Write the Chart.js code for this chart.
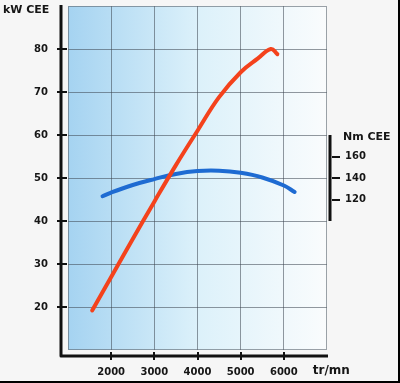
<!DOCTYPE html>
<html><head><meta charset="utf-8">
<script src="https://cdn.jsdelivr.net/npm/chart.js@4/dist/chart.umd.min.js"></script>
<style>html,body{margin:0;padding:0;background:#f6f6f6;overflow:hidden}canvas{display:block}</style>
</head><body>
<canvas id="c" width="400" height="383"></canvas>
<script>
// ---- data ----
const rpmPower = [1560, 2000, 2500, 3000, 3500, 4000, 4500, 5000, 5400, 5700, 5850];
const powerKW  = [19.2, 27,   35.8, 44.5, 53,   61,   68.8, 74.6, 77.8, 80,   78.8];
const rpmTorque = [1800, 2000, 2500, 3000, 3500, 4000, 4500, 5000, 5500, 6000, 6250];
const torqueNm  = [123,  126.5, 133.5, 139, 143.8, 146.5, 146.8, 144.8, 140.5, 133, 127];
const kwTicks  = [20, 30, 40, 50, 60, 70, 80];
const nmTicks  = [120, 140, 160];
const rpmTicks = [2000, 3000, 4000, 5000, 6000];
const kwTitle = 'kW CEE';
const nmTitle = 'Nm CEE';
const rpmTitle = 'tr/mn';

const FONT = 'DejaVu Sans';
const INK = '#161616';

const decor = {
  id: 'decor',
  beforeDraw(chart) {
    const {ctx, chartArea: a} = chart;
    ctx.save();
    ctx.fillStyle = '#f6f6f6';
    ctx.fillRect(0, 0, chart.width, chart.height);
    const g = ctx.createLinearGradient(a.left, 0, a.right, 0);
    g.addColorStop(0, '#a5d3f1');
    g.addColorStop(0.5, '#dcf1fa');
    g.addColorStop(1, '#fafcfd');
    ctx.fillStyle = g;
    ctx.fillRect(a.left, a.top, a.right - a.left, a.bottom - a.top);
    ctx.restore();
  },
  afterDraw(chart) {
    const {ctx, chartArea: a, scales} = chart;
    const x = scales.x, y = scales.y, y2 = scales.y2;
    ctx.save();
    // plot border
    ctx.strokeStyle = 'rgba(90,100,110,0.6)';
    ctx.lineWidth = 1;
    ctx.strokeRect(a.left + 0.5, a.top + 0.5, a.right - a.left - 1, a.bottom - a.top - 1);
    // left axis + bottom axis
    const ax = a.left - 7, by = a.bottom + 6;
    ctx.strokeStyle = '#111';
    ctx.lineWidth = 3;
    ctx.lineJoin = 'round';
    ctx.beginPath();
    ctx.moveTo(ax, a.top - 1);
    ctx.lineTo(ax, by);
    ctx.lineTo(a.right + 1, by);
    ctx.stroke();
    ctx.lineWidth = 2;
    kwTicks.forEach(v => {
      const py = Math.round(y.getPixelForValue(v));
      ctx.beginPath(); ctx.moveTo(ax - 4, py); ctx.lineTo(ax + 6, py); ctx.stroke();
    });
    rpmTicks.forEach(v => {
      const px = Math.round(x.getPixelForValue(v));
      ctx.beginPath(); ctx.moveTo(px, by - 4); ctx.lineTo(px, by + 4); ctx.stroke();
    });
    // right torque axis
    const rx = a.right + 3;
    ctx.lineWidth = 3;
    ctx.beginPath();
    ctx.moveTo(rx, y2.getPixelForValue(180));
    ctx.lineTo(rx, y2.getPixelForValue(100));
    ctx.stroke();
    ctx.lineWidth = 2;
    nmTicks.forEach(v => {
      const py = Math.round(y2.getPixelForValue(v));
      ctx.beginPath(); ctx.moveTo(rx + 2, py); ctx.lineTo(rx + 10, py); ctx.stroke();
    });
    // titles
    ctx.fillStyle = INK;
    ctx.font = 'bold 11px "' + FONT + '"';
    ctx.textBaseline = 'middle';
    ctx.textAlign = 'left';
    ctx.fillText(kwTitle, 3, 10);
    ctx.fillText(nmTitle, a.right + 16, y2.getPixelForValue(178));
    ctx.font = 'bold 12px "' + FONT + '"';
    ctx.fillText(rpmTitle, x.getPixelForValue(6670), by + 15);
    // outer frame shadow
    ctx.fillStyle = '#000';
    ctx.fillRect(chart.width - 2, 0, 2, chart.height);
    ctx.fillRect(0, chart.height - 2, chart.width, 2);
    ctx.restore();
  }
};

const tickFont = {family: FONT, size: 10, weight: 'bold'};
const noPad = s => { s.paddingTop = 0; s.paddingBottom = 0; };

new Chart(document.getElementById('c'), {
  type: 'line',
  data: {
    datasets: [
      {
        label: 'kW CEE',
        data: rpmPower.map((r, i) => ({x: r, y: powerKW[i]})),
        borderColor: '#f4421c',
        borderWidth: 4,
        pointRadius: 0,
        tension: 0.4,
        borderCapStyle: 'round',
        yAxisID: 'y'
      },
      {
        label: 'Nm CEE',
        data: rpmTorque.map((r, i) => ({x: r, y: torqueNm[i]})),
        borderColor: '#1e6bd2',
        borderWidth: 4,
        pointRadius: 0,
        tension: 0.4,
        borderCapStyle: 'round',
        yAxisID: 'y2'
      }
    ]
  },
  options: {
    responsive: false,
    animation: false,
    devicePixelRatio: 1,
    layout: {padding: {top: 6, left: 0, right: 0, bottom: 0}},
    plugins: {legend: {display: false}, tooltip: {enabled: false}},
    scales: {
      x: {
        type: 'linear', min: 1000, max: 7000,
        afterBuildTicks: s => { s.ticks = rpmTicks.map(v => ({value: v})); },
        afterFit: s => { s.height = 33; s.paddingLeft = 0; s.paddingRight = 0; },
        grid: {color: 'rgba(60,70,80,0.55)', lineWidth: 1, drawTicks: false},
        border: {display: false},
        ticks: {font: tickFont, color: INK, padding: 16, callback: v => String(v)}
      },
      y: {
        position: 'left', min: 10, max: 90,
        afterBuildTicks: s => { s.ticks = kwTicks.map(v => ({value: v})); },
        afterFit: s => { s.width = 68; noPad(s); },
        grid: {color: 'rgba(60,70,80,0.55)', lineWidth: 1, drawTicks: false},
        border: {display: false},
        ticks: {font: tickFont, color: INK, padding: 20, callback: v => String(v)}
      },
      y2: {
        position: 'right', min: -20, max: 300,
        afterBuildTicks: s => { s.ticks = nmTicks.map(v => ({value: v})); },
        afterFit: s => { s.width = 73; noPad(s); },
        grid: {display: false, drawTicks: false},
        border: {display: false},
        ticks: {font: tickFont, color: INK, padding: 18, callback: v => String(v)}
      }
    }
  },
  plugins: [decor]
});
</script>
</body></html>
